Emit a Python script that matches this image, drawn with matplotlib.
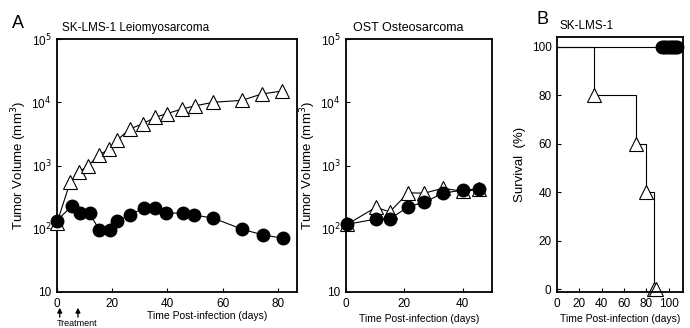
import matplotlib
matplotlib.use('Agg')
import matplotlib.pyplot as plt

plt.rcParams['font.family'] = ['Liberation Sans', 'DejaVu Sans']

# SK-LMS-1 tumor volume (mm3)
lms_ctrl_days = [0, 4.8, 7.8, 11.4, 15.1, 18.7, 21.7, 26.5, 31.3, 35.6, 39.8, 45.2, 50.1, 56.7, 67, 74.2, 81.4]
lms_ctrl_vol = [125, 550, 780, 1000, 1450, 1800, 2500, 3800, 4600, 5800, 6600, 7800, 8800, 10000, 10700, 13500, 15000]
lms_trt_days = [0, 5.4, 8.4, 11.8, 15.4, 19.3, 21.9, 26.5, 31.6, 35.6, 39.4, 45.5, 49.5, 56.5, 67.2, 74.6, 81.8]
lms_trt_vol = [135, 230, 177, 177, 94, 94, 133, 165, 215, 215, 177, 177, 165, 148, 98, 80, 71]

# OST tumor volume (mm3)
ost_ctrl_days = [0.5, 10.2, 15, 21.3, 26.7, 33.3, 40, 45.5]
ost_ctrl_vol = [118, 218, 185, 370, 365, 437, 390, 420]
ost_trt_days = [0.5, 10.2, 15, 21.3, 26.7, 33.3, 40, 45.5]
ost_trt_vol = [118, 142, 142, 223, 262, 365, 410, 425]

# survival (%)
surv_ctrl_days = [0, 33.5, 71, 80, 87]
surv_ctrl_pct = [100, 80, 60, 40, 0]
surv_ctrl_extra_days = [89]
surv_ctrl_extra_pct = [0]
surv_trt_days = [94, 96, 98, 100, 102, 104, 106, 108]
surv_trt_pct = [100, 100, 100, 100, 100, 100, 100, 100]

treatment_days = [1, 7.6]

log_ticks = [10, 100, 1000, 10000, 100000]
log_labels = ['10', '10$^2$', '10$^3$', '10$^4$', '10$^5$']

fig = plt.figure(figsize=(6.9, 3.28), dpi=100)
W, H = 690, 328


def axes_px(l, r, t, b):
    return fig.add_axes([l / W, 1 - b / H, (r - l) / W, (b - t) / H])


tri = dict(marker='^', markersize=10, markerfacecolor='white', markeredgecolor='black',
           markeredgewidth=0.8)
dot = dict(marker='o', markersize=9, markerfacecolor='black', markeredgecolor='black')


def style(ax):
    for s in ax.spines.values():
        s.set_linewidth(1.3)
    ax.tick_params(direction='in', length=3, width=0.8, labelsize=8.5, pad=4)
    ax.tick_params(which='minor', length=0)


def volume_axes(ax, days_c, vol_c, days_t, vol_t, xmax, xticks, title, title_dx):
    ax.plot(days_c, vol_c, color='black', lw=0.8, zorder=3, **tri)
    ax.plot(days_t, vol_t, color='black', lw=0.8, zorder=4, **dot)
    ax.set_yscale('log')
    ax.set_ylim(10, 100000)
    ax.set_yticks(log_ticks)
    ax.set_yticklabels(log_labels)
    ax.set_xlim(0, xmax)
    ax.set_xticks(xticks)
    ax.set_xlabel('Time Post-infection (days)', fontsize=7.5, labelpad=3)
    ax.set_ylabel('Tumor Volume (mm$^3$)', fontsize=9.5, labelpad=2)
    ax.text(title_dx, 1.02, title, fontsize=8.5, transform=ax.transAxes, va='bottom')
    style(ax)


ax1 = axes_px(57, 297, 39, 292)
volume_axes(ax1, lms_ctrl_days, lms_ctrl_vol, lms_trt_days, lms_trt_vol, 87,
            [0, 20, 40, 60, 80], 'SK-LMS-1 Leiomyosarcoma', 5 / 240)
ax1.xaxis.set_label_coords((207 - 57) / 240, -0.075)

ax2 = axes_px(346, 492, 39, 292)
volume_axes(ax2, ost_ctrl_days, ost_ctrl_vol, ost_trt_days, ost_trt_vol, 50,
            [0, 20, 40], 'OST Osteosarcoma', 7 / 146)
ax2.texts[0].set_fontsize(9)

ax3 = axes_px(557, 683, 37, 292)
ax3.plot([0, 109], [100, 100], color='black', lw=0.8)
ax3.plot(surv_ctrl_days, surv_ctrl_pct, drawstyle='steps-post', color='black', lw=0.8)
ax3.plot(surv_ctrl_days[1:], surv_ctrl_pct[1:], ls='none', **tri)
ax3.plot(surv_ctrl_extra_days, surv_ctrl_extra_pct, ls='none', **tri)
ax3.plot(surv_trt_days, surv_trt_pct, ls='none', **dot)
ax3.set_xlim(0, 113)
ax3.set_ylim(-1.1, 104)
ax3.set_xticks([0, 20, 40, 60, 80, 100])
ax3.set_yticks([0, 20, 40, 60, 80, 100])
ax3.set_xlabel('Time Post-infection (days)', fontsize=7.5, labelpad=3)
ax3.set_ylabel('Survival  (%)', fontsize=9.5, labelpad=4)
ax3.text(3 / 126, 1.02, 'SK-LMS-1', fontsize=8.5, transform=ax3.transAxes, va='bottom')
style(ax3)
for a in (ax1, ax2, ax3):
    for m in a.lines:
        m.set_clip_on(False)

# treatment arrows under panel A
for d in treatment_days:
    ax1.annotate('', xy=(d, 1 - 305 / H), xytext=(d, 1 - 320 / H),
                 xycoords=('data', 'figure fraction'), textcoords=('data', 'figure fraction'),
                 arrowprops=dict(arrowstyle='-|>', color='black', lw=0.9, mutation_scale=7))
fig.text(57 / W, 1 - 327.5 / H, 'Treatment', fontsize=6.5, va='bottom', ha='left')

fig.text(12 / W, 1 - 28 / H, 'A', fontsize=13)
fig.text(537 / W, 1 - 24 / H, 'B', fontsize=13)

fig.savefig('out.png', dpi=100)
